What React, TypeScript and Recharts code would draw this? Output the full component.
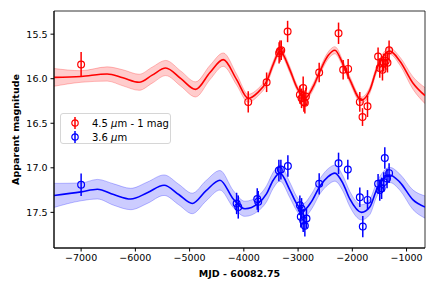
import {
  ComposedChart, Line, Area, Scatter, ErrorBar, XAxis, YAxis, ReferenceArea,
} from 'recharts'

const xTicks = [-7000, -6000, -5000, -4000, -3000, -2000, -1000]
const yTicks = [15.5, 16.0, 16.5, 17.0, 17.5]

// GP model, 4.5 um (shifted by -1 mag)
const redModelMjd = [-7500, -7000, -6520, -6230, -5930, -5690, -5440, -5160, -4890, -4624, -4379, -4133, -3919, -3735, -3580, -3459, -3335, -3151, -3028, -2875, -2722, -2600, -2446, -2322, -2169, -2046, -1831, -1678, -1555, -1309, -1125, -880, -660]
const redModelMag = [15.985, 15.975, 15.947, 15.99, 16.04, 15.96, 15.88, 16.0, 16.12, 15.93, 15.786, 16.01, 16.22, 16.15, 16.03, 15.84, 15.69, 15.9, 16.09, 16.22, 16.09, 15.92, 15.74, 15.68, 15.84, 16.01, 16.24, 16.13, 15.9, 15.69, 15.8, 16.05, 16.19]
const redModelSig = [0.1, 0.065, 0.08, 0.09, 0.09, 0.09, 0.085, 0.085, 0.085, 0.08, 0.075, 0.06, 0.045, 0.04, 0.04, 0.035, 0.035, 0.035, 0.03, 0.03, 0.035, 0.035, 0.04, 0.04, 0.035, 0.035, 0.035, 0.035, 0.035, 0.035, 0.045, 0.07, 0.09]

// GP model, 3.6 um
const blueModelMjd = [-7500, -7000, -6700, -6400, -6085, -5780, -5470, -5200, -4950, -4700, -4440, -4195, -3980, -3735, -3580, -3459, -3335, -3151, -3028, -2906, -2753, -2600, -2446, -2322, -2169, -2046, -1831, -1678, -1555, -1309, -1125, -880, -660]
const blueModelMag = [17.31, 17.27, 17.24, 17.3, 17.35, 17.28, 17.195, 17.3, 17.4, 17.26, 17.14, 17.35, 17.46, 17.4, 17.29, 17.14, 17.06, 17.25, 17.4, 17.48, 17.38, 17.21, 17.1, 17.06, 17.18, 17.35, 17.5, 17.44, 17.25, 17.08, 17.16, 17.36, 17.44]
const blueModelSig = [0.135, 0.1, 0.11, 0.12, 0.12, 0.12, 0.115, 0.115, 0.115, 0.115, 0.11, 0.095, 0.085, 0.085, 0.09, 0.09, 0.09, 0.085, 0.08, 0.08, 0.085, 0.085, 0.09, 0.09, 0.085, 0.085, 0.085, 0.085, 0.08, 0.085, 0.09, 0.11, 0.125]

// observations
const redObsMjd = [-7000, -3919, -3580, -3350, -3335, -3310, -3193, -2967, -2936, -2906, -2893, -2875, -2856, -2611, -2254, -2169, -2077, -1862, -1812, -1720, -1525, -1494, -1444, -1420, -1383, -1352, -1322]
const redObsMag = [15.84, 16.26, 16.04, 15.71, 15.69, 15.68, 15.47, 16.18, 16.22, 16.105, 16.26, 16.27, 16.2, 15.93, 15.49, 15.9, 15.89, 16.26, 16.43, 16.31, 15.75, 15.88, 15.9, 15.82, 15.8, 15.82, 15.68]
const redObsErr = [0.14, 0.12, 0.11, 0.12, 0.12, 0.11, 0.12, 0.1, 0.11, 0.13, 0.11, 0.12, 0.1, 0.11, 0.12, 0.11, 0.11, 0.11, 0.1, 0.12, 0.1, 0.11, 0.12, 0.1, 0.1, 0.11, 0.11]

const blueObsMjd = [-7000, -4133, -4103, -3753, -3735, -3354, -3317, -3188, -2967, -2936, -2950, -2906, -2875, -2845, -2611, -2254, -2083, -1862, -1807, -1720, -1525, -1494, -1460, -1420, -1401, -1360, -1322]
const blueObsMag = [17.19, 17.4, 17.44, 17.35, 17.38, 17.03, 17.02, 16.98, 17.42, 17.46, 17.55, 17.59, 17.65, 17.57, 17.18, 16.95, 17.02, 17.33, 17.66, 17.36, 17.18, 17.25, 17.23, 17.16, 16.89, 17.12, 17.06]
const blueObsErr = [0.125, 0.12, 0.13, 0.12, 0.12, 0.12, 0.11, 0.12, 0.11, 0.12, 0.12, 0.13, 0.12, 0.11, 0.12, 0.12, 0.11, 0.11, 0.12, 0.11, 0.11, 0.12, 0.12, 0.11, 0.12, 0.11, 0.11]

const model = (mjd: number[], mag: number[], sig: number[]) =>
  mjd.map((x, i) => ({ x, y: mag[i], band: [mag[i] - sig[i], mag[i] + sig[i]] }))
const obs = (mjd: number[], mag: number[], err: number[]) =>
  mjd.map((x, i) => ({ x, y: mag[i], err: err[i] }))

const redModel = model(redModelMjd, redModelMag, redModelSig)
const blueModel = model(blueModelMjd, blueModelMag, blueModelSig)
const redObs = obs(redObsMjd, redObsMag, redObsErr)
const blueObs = obs(blueObsMjd, blueObsMag, blueObsErr)

const FONT = 'DejaVu Sans, sans-serif'
const fmtX = (v: number) => (v < 0 ? '\u2212' + Math.abs(v) : String(v))

const openCircle = (color: string) => (p: any) =>
  <circle cx={p.cx} cy={p.cy} r={3.4} fill="none" stroke={color} strokeWidth={1.2} />

function LegendMarker({ color }: { color: string }) {
  return (
    <svg width={12} height={14} style={{ display: 'block' }}>
      <line x1={6} y1={1} x2={6} y2={13} stroke={color} strokeWidth={1.5} />
      <circle cx={6} cy={7} r={3.2} fill="none" stroke={color} strokeWidth={1.2} />
    </svg>
  )
}

export default function App() {
  const row = { display: 'flex', alignItems: 'center', height: 14 }
  return (
    <div style={{ position: 'absolute', left: 0, top: 0, width: 436, height: 291, fontFamily: FONT }}>
      <ComposedChart width={436} height={291} margin={{ top: 11, right: 11, bottom: 13, left: 8 }}>
        <XAxis
          type="number" dataKey="x" domain={[-7500, -660]} allowDataOverflow ticks={xTicks}
          tickFormatter={fmtX} height={30} tickSize={3.5} tickMargin={2.5}
          stroke="#000" tick={{ fill: '#000', fontSize: 9.5, fontFamily: FONT }}
          label={{ value: 'MJD - 60082.75', position: 'insideBottom', offset: 1, fill: '#000', fontSize: 9.5, fontWeight: 'bold', fontFamily: FONT }}
        />
        <YAxis
          type="number" dataKey="y" domain={[15.24, 17.9]} allowDataOverflow reversed ticks={yTicks}
          tickFormatter={(v: number) => v.toFixed(1)} width={46} tickSize={3.5} tickMargin={3}
          stroke="#000" tick={{ fill: '#000', fontSize: 9.5, fontFamily: FONT }}
          label={{
            content: (p: any) => {
              const vb = p.viewBox
              const cx = vb.x + 7
              const cy = vb.y + vb.height / 2
              return (
                <text x={cx} y={cy} transform={`rotate(-90 ${cx} ${cy})`} textAnchor="middle"
                  dominantBaseline="central" fontSize={9.5} fontWeight="bold" fontFamily={FONT} fill="#000">
                  Apparent magnitude
                </text>
              )
            },
          }}
        />
        <Area data={redModel} dataKey="band" type="monotone" fill="red" fillOpacity={0.2}
          stroke="red" strokeOpacity={0.25} strokeWidth={1} isAnimationActive={false} />
        <Area data={blueModel} dataKey="band" type="monotone" fill="blue" fillOpacity={0.2}
          stroke="blue" strokeOpacity={0.25} strokeWidth={1} isAnimationActive={false} />
        <Line data={redModel} dataKey="y" type="monotone" stroke="red" strokeWidth={1.6} dot={false} isAnimationActive={false} />
        <Line data={blueModel} dataKey="y" type="monotone" stroke="blue" strokeWidth={1.6} dot={false} isAnimationActive={false} />
        <Scatter data={redObs} dataKey="y" shape={openCircle('red')} isAnimationActive={false}>
          <ErrorBar dataKey="err" direction="y" width={0} stroke="red" strokeWidth={1.5} />
        </Scatter>
        <Scatter data={blueObs} dataKey="y" shape={openCircle('blue')} isAnimationActive={false}>
          <ErrorBar dataKey="err" direction="y" width={0} stroke="blue" strokeWidth={1.5} />
        </Scatter>
        <ReferenceArea x1={-7500} x2={-660} y1={15.24} y2={17.9} fill="none" stroke="#000" strokeWidth={0.8} ifOverflow="visible" />
      </ComposedChart>
      <div style={{
        position: 'absolute', left: 60, top: 113, width: 111, height: 31, border: '1px solid #d6d6d6',
        borderRadius: 3, background: 'rgba(255,255,255,0.8)', fontSize: 10, color: '#000', padding: '2px 0 0 8px', boxSizing: 'border-box',
      }}>
        <div style={row}>
          <LegendMarker color="red" />
          <span style={{ marginLeft: 11 }}>4.5 <i>μ</i>m - 1 mag</span>
        </div>
        <div style={row}>
          <LegendMarker color="blue" />
          <span style={{ marginLeft: 11 }}>3.6 <i>μ</i>m</span>
        </div>
      </div>
    </div>
  )
}
